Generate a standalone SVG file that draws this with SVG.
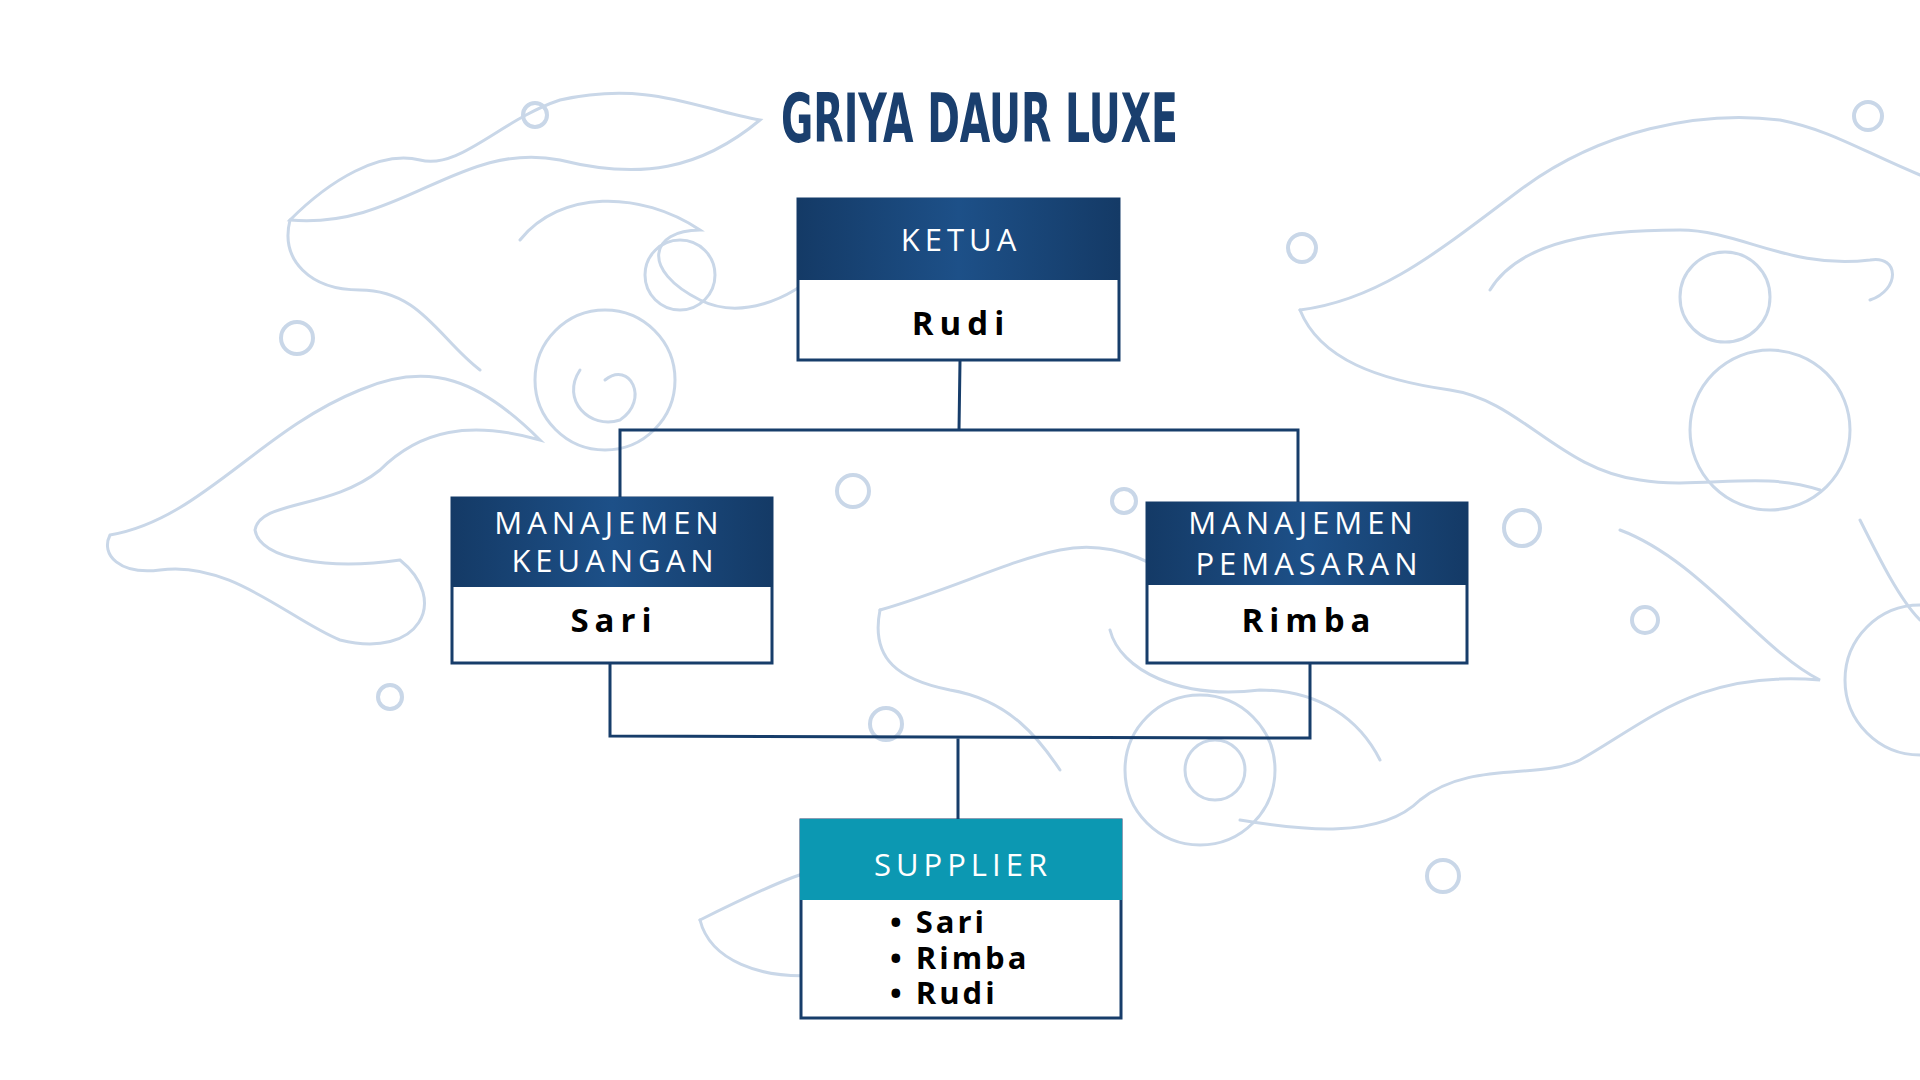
<svg xmlns="http://www.w3.org/2000/svg" width="1920" height="1080" viewBox="0 0 1920 1080">
<defs>
<linearGradient id="hd" x1="0" y1="0" x2="1" y2="0">
<stop offset="0" stop-color="#143a66"/><stop offset="0.5" stop-color="#1d5088"/><stop offset="1" stop-color="#143a66"/>
</linearGradient>
<style>
.bg{fill:none;stroke:#c9d7e8;stroke-width:3;stroke-linecap:round}
.bgc{fill:none;stroke:#c9d7e8;stroke-width:4}
.box{fill:#fff;stroke:#173d6a;stroke-width:3}
.hdr{fill:url(#hd)}
.ht{font-family:"Open Sans","DejaVu Sans",sans-serif;font-size:31px;fill:#fff;letter-spacing:5px;text-anchor:middle}
.nt{font-family:"Open Sans","DejaVu Sans",sans-serif;font-weight:bold;font-size:33px;fill:#000;letter-spacing:6px;text-anchor:middle}
.bl{font-family:"Open Sans","DejaVu Sans",sans-serif;font-weight:bold;font-size:31px;fill:#000;letter-spacing:3px}
.ln{fill:none;stroke:#173d6a;stroke-width:3}
</style>
</defs>
<rect width="1920" height="1080" fill="#fff"/>
<g id="background">
<path class="bg" d="M110 535 C200 520 260 430 360 390 C430 360 480 380 540 440 C470 420 420 430 380 470 C330 510 260 500 255 530 C260 560 330 570 400 560 C450 600 420 660 340 640 C290 620 230 560 160 570 C120 575 100 555 110 535Z"/>
<path class="bg" d="M290 220 C400 230 460 140 560 160 C640 180 700 170 760 120 C700 110 650 80 560 100 C500 120 460 170 420 160 C380 150 330 180 290 220Z"/>
<path class="bg" d="M290 220 C280 260 310 290 360 290 C420 290 440 340 480 370"/>
<path class="bg" d="M520 240 C560 190 640 190 700 230 C650 230 640 270 700 300 C740 320 790 300 820 270"/>
<circle class="bg" cx="605" cy="380" r="70"/><path class="bg" d="M605 380 C630 360 650 400 620 420 C590 430 560 400 580 370"/>
<circle class="bg" cx="680" cy="275" r="35"/>
<path class="bg" d="M1300 310 C1380 300 1440 250 1520 190 C1600 130 1700 110 1780 120 C1830 130 1860 150 1920 175"/>
<path class="bg" d="M1300 310 C1320 360 1380 380 1450 390 C1520 400 1560 470 1640 480 C1700 490 1760 470 1820 490"/>
<path class="bg" d="M1490 290 C1520 240 1600 230 1680 230 C1740 230 1790 270 1870 260 C1900 255 1900 290 1870 300"/>
<circle class="bg" cx="1770" cy="430" r="80"/><circle class="bg" cx="1725" cy="297" r="45"/>
<path class="bg" d="M1620 530 C1700 560 1760 650 1820 680 C1700 670 1650 720 1580 760 C1540 780 1470 760 1420 800 C1380 840 1300 830 1240 820"/>
<circle class="bg" cx="1200" cy="770" r="75"/><circle class="bg" cx="1215" cy="770" r="30"/>
<path class="bg" d="M880 610 C950 590 1010 560 1060 550 C1110 540 1170 560 1200 610"/>
<path class="bg" d="M880 610 C870 660 900 680 950 690 C1010 700 1040 740 1060 770"/>
<path class="bg" d="M700 920 C760 890 820 860 900 850 C980 840 1040 870 1100 860"/>
<path class="bg" d="M700 920 C710 960 760 980 820 975"/>
<path class="bg" d="M1110 630 C1120 670 1180 700 1260 690 C1320 690 1360 720 1380 760"/>
<path class="bg" d="M1860 520 C1880 560 1900 600 1920 620"/>
<circle class="bg" cx="1920" cy="680" r="75"/>
<circle class="bgc" cx="535" cy="115" r="12"/><circle class="bgc" cx="297" cy="338" r="16"/>
<circle class="bgc" cx="390" cy="697" r="12"/><circle class="bgc" cx="853" cy="491" r="16"/>
<circle class="bgc" cx="1124" cy="501" r="12"/><circle class="bgc" cx="1302" cy="248" r="14"/>
<circle class="bgc" cx="1522" cy="528" r="18"/><circle class="bgc" cx="1645" cy="620" r="13"/>
<circle class="bgc" cx="1868" cy="116" r="14"/><circle class="bgc" cx="1443" cy="876" r="16"/>
<circle class="bgc" cx="886" cy="724" r="16"/>
</g>
<text x="781" y="142" textLength="397" lengthAdjust="spacingAndGlyphs" font-family="'DejaVu Sans',sans-serif" font-weight="bold" font-size="67" fill="#1a3f6e">GRIYA DAUR LUXE</text>
<g id="connectors">
<path class="ln" d="M960 361 L959 430 M620 497 L620 430 L1298 430 L1298 502"/>
<path class="ln" d="M610 664 L610 736 L1310 738 L1310 664 M958 737 L958 819"/>
</g>
<g id="ketua">
<rect class="box" x="798" y="199" width="321" height="161"/>
<rect class="hdr" x="797" y="198" width="323" height="82"/>
<text class="ht" x="961" y="251">KETUA</text>
<text class="nt" x="961" y="335">Rudi</text>
</g>
<g id="keuangan">
<rect class="box" x="452" y="498" width="320" height="165"/>
<rect class="hdr" x="451" y="497" width="322" height="90"/>
<text class="ht" x="609" y="534">MANAJEMEN</text>
<text class="ht" x="615" y="572">KEUANGAN</text>
<text class="nt" x="614" y="632">Sari</text>
</g>
<g id="pemasaran">
<rect class="box" x="1147" y="503" width="320" height="160"/>
<rect class="hdr" x="1146" y="502" width="322" height="83"/>
<text class="ht" x="1303" y="534">MANAJEMEN</text>
<text class="ht" x="1309" y="575">PEMASARAN</text>
<text class="nt" x="1309" y="632">Rimba</text>
</g>
<g id="supplier">
<rect class="box" x="801" y="820" width="320" height="198"/>
<rect x="800" y="819" width="322" height="81" fill="#0c98b2"/>
<text class="ht" x="963" y="876">SUPPLIER</text>
<text class="bl" x="890" y="933">• Sari</text>
<text class="bl" x="890" y="969">• Rimba</text>
<text class="bl" x="890" y="1004">• Rudi</text>
</g>
</svg>
